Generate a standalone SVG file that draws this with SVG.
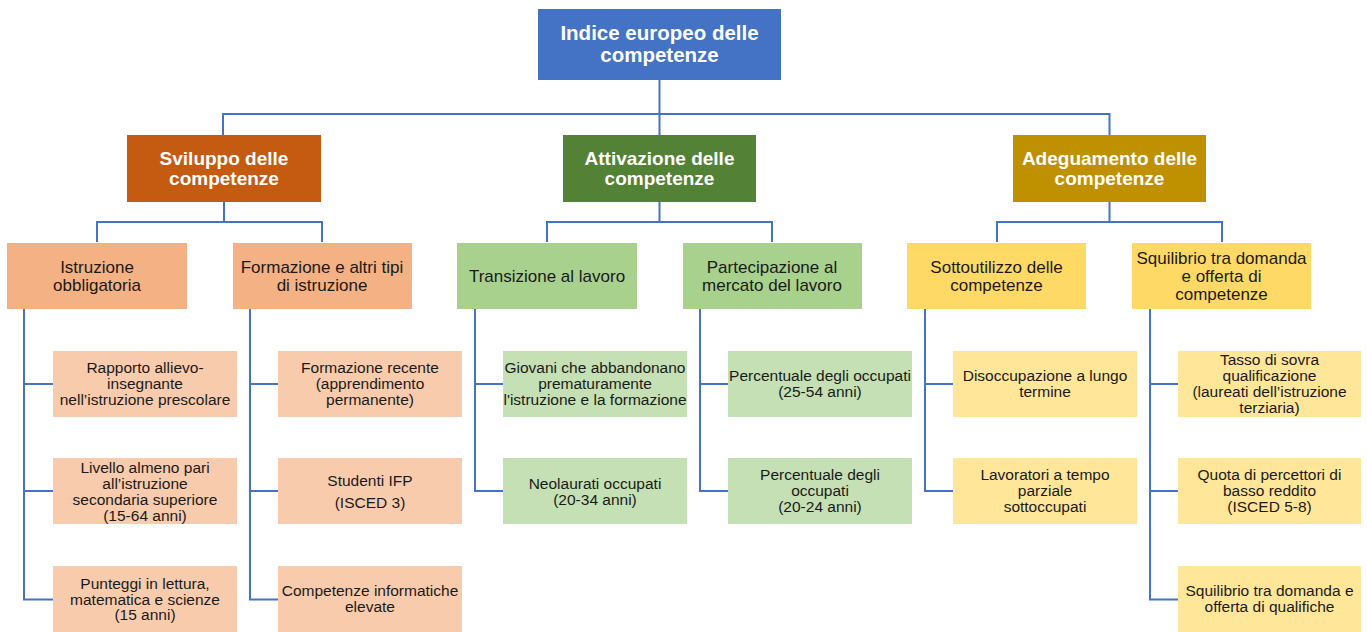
<svg xmlns="http://www.w3.org/2000/svg" width="1367" height="632" viewBox="0 0 1367 632">
<style>
text{font-family:"Liberation Sans",Arial,sans-serif;text-anchor:middle}
.t1{font-size:20.5px;font-weight:bold;fill:#fff}
.t2{font-size:19px;font-weight:bold;fill:#fff}
.t3{font-size:17px;fill:#1a1a1a}
.t4{font-size:15.5px;fill:#1a1a1a}
.c{fill:none;stroke:#4472C4;stroke-width:2}
.o3{fill:#F4B183}.g3{fill:#A9D18E}.y3{fill:#FFD966}
.o4{fill:#F8CBAD}.g4{fill:#C5E0B4}.y4{fill:#FFE699}
</style>
<rect width="1367" height="632" fill="#fff"/>
<g id="connectors" class="c">
<path d="M659.5 80V135M223 135V114H1109.5V135"/>
<path d="M224 202V222M97 242V222H322V242"/>
<path d="M659.5 202V222M547 242V222H772V242"/>
<path d="M1109.5 202V222M997 242V222H1222V242"/>
<path d="M24 309V599.5H53M24 384H53M24 491H53"/>
<path d="M250 309V599.5H278M250 384H278M250 491H278"/>
<path d="M475 309V491H503M475 384H503"/>
<path d="M700 309V491H728M700 384H728"/>
<path d="M925 309V491H953M925 384H953"/>
<path d="M1150 309V599.5H1178M1150 384H1178M1150 491H1178"/>
</g>
<g id="n-root"><rect x="538" y="9" width="243" height="71" fill="#4472C4"/><text class="t1" x="659.5" y="40">Indice europeo delle</text><text class="t1" x="659.5" y="62">competenze</text></g>
<g id="n-sviluppo"><rect x="127" y="135" width="194" height="67" fill="#C55A11"/><text class="t2" x="224" y="164.6">Sviluppo delle</text><text class="t2" x="224" y="184.6">competenze</text></g>
<g id="n-attivazione"><rect x="563" y="135" width="193" height="67" fill="#538135"/><text class="t2" x="659.5" y="164.6">Attivazione delle</text><text class="t2" x="659.5" y="184.6">competenze</text></g>
<g id="n-adeguamento"><rect x="1013" y="135" width="193" height="67" fill="#BF9000"/><text class="t2" x="1109.5" y="164.6">Adeguamento delle</text><text class="t2" x="1109.5" y="184.6">competenze</text></g>

<g id="n-istruzione"><rect class="o3" x="7" y="243" width="180" height="66"/><text class="t3" x="97" y="272.7">Istruzione</text><text class="t3" x="97" y="291">obbligatoria</text></g>
<g id="n-formazione"><rect class="o3" x="233" y="243" width="179" height="66"/><text class="t3" x="322" y="272.7">Formazione e altri tipi</text><text class="t3" x="322" y="291">di istruzione</text></g>
<g id="n-transizione"><rect class="g3" x="457" y="243" width="180" height="66"/><text class="t3" x="547" y="282">Transizione al lavoro</text></g>
<g id="n-partecipazione"><rect class="g3" x="683" y="243" width="179" height="66"/><text class="t3" x="772" y="272.7">Partecipazione al</text><text class="t3" x="772" y="291">mercato del lavoro</text></g>
<g id="n-sottoutilizzo"><rect class="y3" x="907" y="243" width="179" height="66"/><text class="t3" x="996.5" y="272.7">Sottoutilizzo delle</text><text class="t3" x="996.5" y="291">competenze</text></g>
<g id="n-squilibrio"><rect class="y3" x="1132" y="243" width="179" height="66"/><text class="t3" x="1221.5" y="264.3">Squilibrio tra domanda</text><text class="t3" x="1221.5" y="282">e offerta di</text><text class="t3" x="1221.5" y="300">competenze</text></g>

<g id="n-rapporto"><rect class="o4" x="53" y="351" width="184" height="66"/><text class="t4" x="145" y="373.2">Rapporto allievo-</text><text class="t4" x="145" y="389.2">insegnante</text><text class="t4" x="145" y="405.2">nell’istruzione prescolare</text></g>
<g id="n-livello"><rect class="o4" x="53" y="458" width="184" height="66"/><text class="t4" x="145" y="472.8">Livello almeno pari</text><text class="t4" x="145" y="488.8">all’istruzione</text><text class="t4" x="145" y="504.8">secondaria superiore</text><text class="t4" x="145" y="520.8">(15-64 anni)</text></g>
<g id="n-punteggi"><rect class="o4" x="53" y="566" width="184" height="66"/><text class="t4" x="145" y="588.7">Punteggi in lettura,</text><text class="t4" x="145" y="604.5">matematica e scienze</text><text class="t4" x="145" y="620.4">(15 anni)</text></g>

<g id="n-formrecente"><rect class="o4" x="278" y="351" width="184" height="66"/><text class="t4" x="370" y="373.2">Formazione recente</text><text class="t4" x="370" y="389.2">(apprendimento</text><text class="t4" x="370" y="405.2">permanente)</text></g>
<g id="n-studenti"><rect class="o4" x="278" y="458" width="184" height="66"/><text class="t4" x="370" y="486">Studenti IFP</text><text class="t4" x="370" y="508">(ISCED 3)</text></g>
<g id="n-informatiche"><rect class="o4" x="278" y="566" width="184" height="66"/><text class="t4" x="370" y="596.4">Competenze informatiche</text><text class="t4" x="370" y="612.1">elevate</text></g>

<g id="n-giovani"><rect class="g4" x="503" y="351" width="184" height="66"/><text class="t4" x="595" y="373.2">Giovani che abbandonano</text><text class="t4" x="595" y="389.2">prematuramente</text><text class="t4" x="595" y="405.2">l'istruzione e la formazione</text></g>
<g id="n-neolaurati"><rect class="g4" x="503" y="458" width="184" height="66"/><text class="t4" x="595" y="488.7">Neolaurati occupati</text><text class="t4" x="595" y="504.7">(20-34 anni)</text></g>

<g id="n-perc2554"><rect class="g4" x="728" y="351" width="184" height="66"/><text class="t4" x="820" y="381.1">Percentuale degli occupati</text><text class="t4" x="820" y="397.1">(25-54 anni)</text></g>
<g id="n-perc2024"><rect class="g4" x="728" y="458" width="184" height="66"/><text class="t4" x="820" y="480.4">Percentuale degli</text><text class="t4" x="820" y="496.4">occupati</text><text class="t4" x="820" y="512.4">(20-24 anni)</text></g>

<g id="n-disoccupazione"><rect class="y4" x="953" y="351" width="184" height="66"/><text class="t4" x="1045" y="381.1">Disoccupazione a lungo</text><text class="t4" x="1045" y="397.1">termine</text></g>
<g id="n-lavoratori"><rect class="y4" x="953" y="458" width="184" height="66"/><text class="t4" x="1045" y="480.4">Lavoratori a tempo</text><text class="t4" x="1045" y="496.4">parziale</text><text class="t4" x="1045" y="512.4">sottoccupati</text></g>

<g id="n-tasso"><rect class="y4" x="1178" y="351" width="183" height="66"/><text class="t4" x="1269.5" y="365.4">Tasso di sovra</text><text class="t4" x="1269.5" y="381.4">qualificazione</text><text class="t4" x="1269.5" y="397.4">(laureati dell’istruzione</text><text class="t4" x="1269.5" y="413.4">terziaria)</text></g>
<g id="n-quota"><rect class="y4" x="1178" y="458" width="183" height="66"/><text class="t4" x="1269.5" y="480.4">Quota di percettori di</text><text class="t4" x="1269.5" y="496.4">basso reddito</text><text class="t4" x="1269.5" y="512.4">(ISCED 5-8)</text></g>
<g id="n-squilqual"><rect class="y4" x="1178" y="566" width="183" height="66"/><text class="t4" x="1269.5" y="596.4">Squilibrio tra domanda e</text><text class="t4" x="1269.5" y="612.4">offerta di qualifiche</text></g>
</svg>
